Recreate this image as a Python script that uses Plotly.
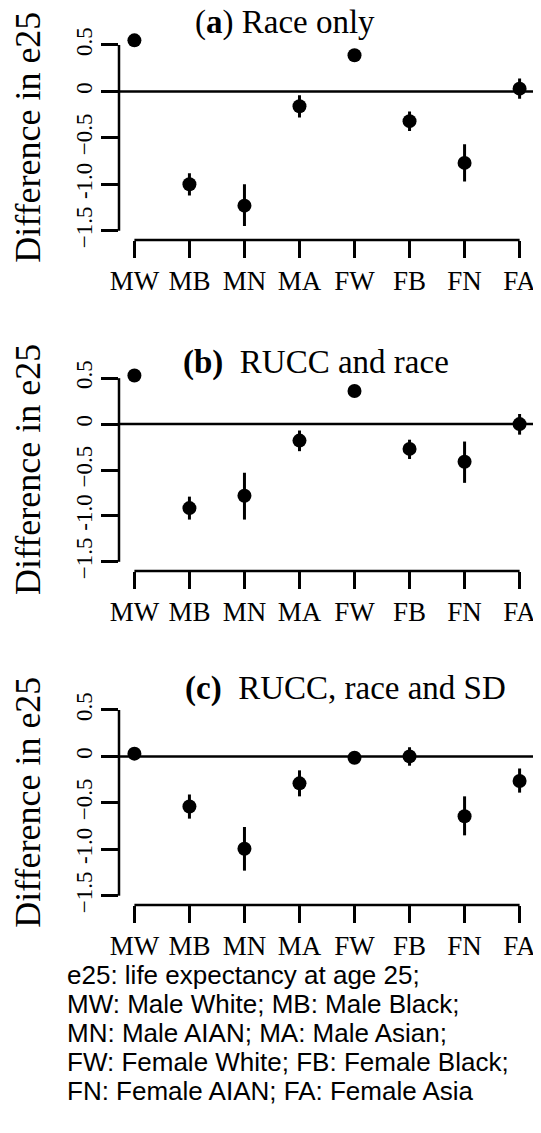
import plotly.graph_objects as go

# the page body adds an 8px offset; figure is sized to fit the window
OFF = 8
W, H = 541 - OFF, 1133 - OFF

categories = ["MW", "MB", "MN", "MA", "FW", "FB", "FN", "FA"]
xpos = [1, 2, 3, 4, 5, 6, 7, 8]

est_a = [0.55, -1.00, -1.23, -0.16, 0.39, -0.32, -0.77, 0.03]
lo_a = [0.52, -1.12, -1.45, -0.28, 0.36, -0.425, -0.97, -0.08]
hi_a = [0.58, -0.88, -1.00, -0.04, 0.42, -0.215, -0.57, 0.14]

est_b = [0.53, -0.915, -0.78, -0.18, 0.36, -0.27, -0.41, 0.0]
lo_b = [0.50, -1.04, -1.04, -0.295, 0.33, -0.38, -0.64, -0.115]
hi_b = [0.56, -0.79, -0.53, -0.07, 0.39, -0.17, -0.19, 0.11]

est_c = [0.03, -0.54, -0.995, -0.29, -0.015, 0.0, -0.645, -0.265]
lo_c = [0.0, -0.67, -1.23, -0.43, -0.045, -0.10, -0.85, -0.39]
hi_c = [0.06, -0.41, -0.76, -0.15, 0.015, 0.10, -0.43, -0.13]

ytick_vals = [-1.5, -1.0, -0.5, 0, 0.5]
ytick_text = ["\u22121.5", "-1.0", "\u22120.5", "0", "0.5"]

titles = ["(<b>a</b>) Race only",
          "<b>(b)</b>\u00a0 RUCC and race",
          "<b>(c)</b>\u00a0 RUCC, race and SD"]
title_pos = [(285, 22), (316, 362), (345, 688)]

footnote = ["e25: life expectancy at age 25;",
            "MW: Male White; MB: Male Black;",
            "MN: Male AIAN; MA: Male Asian;",
            "FW: Female White; FB: Female Black;",
            "FN: Female AIAN; FA: Female Asia"]
foot_y = [975, 1004, 1033, 1062, 1091]

ylabel = "Difference in e25"

SERIF = "Liberation Serif, Times New Roman, serif"
SANS = "Liberation Sans, Arial, sans-serif"

# plot areas in target-window pixels (top, bottom)
panels_px = [(35.7, 240.0), (369.0, 571.0), (700.7, 905.0)]
x_px = (119.0, 535.0)


def px_x(p):
    return (p - OFF) / W


def px_y(p):
    return 1 - (p - OFF) / H


series = [(est_a, lo_a, hi_a), (est_b, lo_b, hi_b), (est_c, lo_c, hi_c)]

fig = go.Figure()
layout = dict(width=W, height=H, margin=dict(l=0, r=0, t=0, b=0, pad=0),
              paper_bgcolor="white", plot_bgcolor="white", showlegend=False)
shapes = []
annotations = []

for i, (est, lo, hi) in enumerate(series):
    n = "" if i == 0 else str(i + 1)
    xa, ya = "x" + n, "y" + n
    fig.add_trace(go.Scatter(
        x=xpos, y=est, mode="markers", xaxis=xa, yaxis=ya,
        marker=dict(color="black", size=14, line=dict(width=0)),
        error_y=dict(type="data", symmetric=False,
                     array=[h - e for h, e in zip(hi, est)],
                     arrayminus=[e - l for e, l in zip(est, lo)],
                     color="black", thickness=3, width=0),
        cliponaxis=False, hoverinfo="skip"))
    top, bot = panels_px[i]
    dom_y = [px_y(bot), px_y(top)]
    dom_x = [px_x(x_px[0]), px_x(x_px[1])]
    layout["xaxis" + n] = dict(
        domain=dom_x, anchor=ya, range=[0.72, 8.28], automargin=False,
        tickvals=xpos, ticktext=categories, ticks="outside", ticklen=17,
        tickwidth=2.5, tickcolor="black", showline=False, showgrid=False,
        zeroline=False, ticklabelstandoff=0,
        tickfont=dict(family=SERIF, size=27, color="black"))
    layout["yaxis" + n] = dict(
        domain=dom_y, anchor=xa, range=[-1.6, 0.6], automargin=False,
        tickvals=ytick_vals, ticktext=ytick_text, ticks="outside", ticklen=17,
        tickwidth=2.5, tickcolor="black", showline=False, showgrid=False,
        zeroline=False, tickangle=-90, ticklabelstandoff=0,
        tickfont=dict(family=SERIF, size=23, color="black"))
    # y axis line spanning tick range
    shapes.append(dict(type="line", xref=xa + " domain", yref=ya,
                       x0=0, x1=0, y0=min(ytick_vals), y1=max(ytick_vals),
                       line=dict(color="black", width=2.5)))
    # x axis line spanning categories
    shapes.append(dict(type="line", xref=xa, yref=ya + " domain",
                       x0=min(xpos), x1=max(xpos), y0=0, y1=0,
                       line=dict(color="black", width=2.5)))
    # reference line at zero
    shapes.append(dict(type="line", xref=xa + " domain", yref=ya,
                       x0=0, x1=1, y0=0, y1=0,
                       line=dict(color="black", width=2.5)))
    # title
    tx, ty = title_pos[i]
    annotations.append(dict(text=titles[i], x=px_x(tx), y=px_y(ty),
                            xref="paper", yref="paper", showarrow=False,
                            xanchor="center", yanchor="middle",
                            font=dict(family=SERIF, size=33, color="black")))
    # y label
    annotations.append(dict(text=ylabel, x=px_x(28), y=px_y((top + bot) / 2),
                            xref="paper", yref="paper", showarrow=False,
                            textangle=-90, xanchor="center", yanchor="middle",
                            font=dict(family=SERIF, size=36, color="black")))

for txt, fy in zip(footnote, foot_y):
    annotations.append(dict(text=txt, x=px_x(65), y=px_y(fy),
                            xref="paper", yref="paper", showarrow=False,
                            xanchor="left", yanchor="middle",
                            font=dict(family=SANS, size=26, color="black")))

layout["shapes"] = shapes
layout["annotations"] = annotations
fig.update_layout(**layout)
fig.write_html("out.html")
